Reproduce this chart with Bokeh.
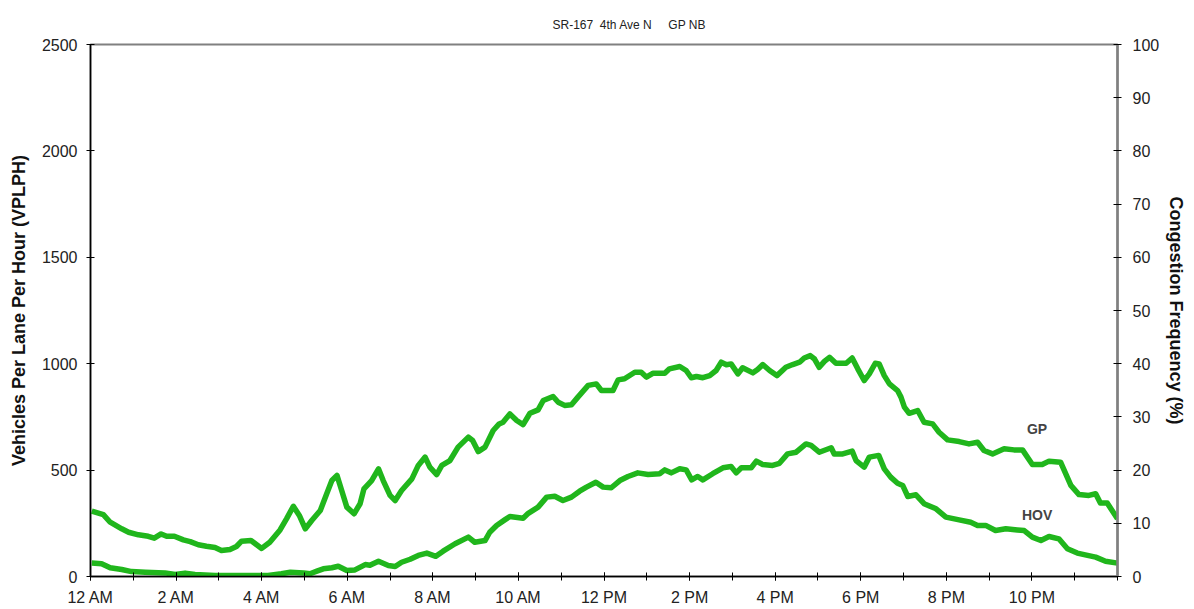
from bokeh.plotting import figure
from bokeh.models import Range1d, LinearAxis, FixedTicker, Label
from bokeh.embed import file_html
from bokeh.resources import INLINE

# ---- data (hours since midnight, vehicles per lane per hour) ----
gp_hours = [0.03, 0.30, 0.46, 0.73, 0.89, 1.12, 1.35, 1.49, 1.65, 1.78, 1.96, 2.17, 2.33, 2.52, 2.71, 2.91,
            3.06, 3.26, 3.41, 3.53, 3.75, 4.00, 4.19, 4.43, 4.58, 4.74, 4.88, 5.02, 5.17, 5.37, 5.52,
            5.64, 5.76, 5.87, 5.99, 6.16, 6.30, 6.39, 6.57, 6.73, 6.84, 7.00, 7.12, 7.27, 7.51, 7.66,
            7.82, 7.93, 8.09, 8.21, 8.40, 8.59, 8.83, 8.93, 9.06, 9.22, 9.41, 9.55, 9.64, 9.80, 9.96,
            10.11, 10.27, 10.46, 10.58, 10.81, 10.93, 11.08, 11.24, 11.39, 11.63, 11.82, 11.94, 12.21,
            12.33, 12.48, 12.72, 12.87, 12.99, 13.14, 13.42, 13.53, 13.77, 13.92, 14.04, 14.16, 14.31,
            14.47, 14.62, 14.74, 14.86, 14.97, 15.13, 15.24, 15.48, 15.59, 15.71, 15.87, 16.04, 16.25,
            16.41, 16.57, 16.68, 16.82, 16.92, 17.03, 17.15, 17.27, 17.42, 17.66, 17.80, 17.93, 18.08,
            18.20, 18.34, 18.43, 18.55, 18.67, 18.86, 18.94, 19.02, 19.13, 19.33, 19.48, 19.68, 19.83,
            20.03, 20.30, 20.53, 20.73, 20.88, 21.08, 21.35, 21.58, 21.78, 22.01, 22.24, 22.40, 22.67,
            22.91, 23.10, 23.33, 23.49, 23.60, 23.76, 24.00]
gp_vals = [307, 291, 255, 224, 208, 196, 189, 180, 200, 189, 189, 172, 164, 149, 142, 136,
           122, 127, 141, 166, 169, 132, 161, 219, 271, 330, 287, 224, 263, 310, 389,
           451, 475, 404, 326, 295, 342, 412, 451, 506, 451, 381, 357, 404, 459, 522,
           561, 514, 479, 522, 545, 608, 655, 639, 587, 608, 686, 717, 725, 764, 733,
           714, 767, 783, 827, 846, 819, 804, 807, 843, 898, 905, 874, 874,
           924, 929, 960, 960, 937, 955, 955, 976, 987, 968, 934, 940, 934,
           944, 968, 1007, 995, 999, 952, 981, 957, 973, 996, 968, 944, 983,
           996, 1007, 1027, 1038, 1022, 983, 1011, 1030, 1002, 1002, 1027, 976, 921,
           952, 1002, 999, 944, 905, 874, 843, 796, 767, 780, 725, 717, 678,
           642, 634, 623, 631, 592, 576, 600, 595, 595, 526, 526, 542, 537,
           428, 385, 381, 389, 345, 345, 271]

hov_hours = [0.03, 0.26, 0.46, 0.73, 0.96, 1.28, 1.74, 1.98, 2.21, 2.44, 2.91, 3.45, 4.15, 4.46, 4.67,
             4.98, 5.13, 5.29, 5.44, 5.64, 5.79, 5.99, 6.18, 6.42, 6.53, 6.73, 6.96, 7.12, 7.27, 7.47,
             7.66, 7.86, 8.07, 8.24, 8.52, 8.83, 8.98, 9.22, 9.33, 9.49, 9.68, 9.80, 10.11, 10.23,
             10.46, 10.66, 10.85, 11.04, 11.24, 11.43, 11.59, 11.81, 11.98, 12.17, 12.37, 12.56,
             12.79, 13.03, 13.30, 13.42, 13.57, 13.77, 13.92, 14.05, 14.19, 14.31, 14.54, 14.78,
             14.97, 15.09, 15.21, 15.44, 15.56, 15.71, 15.94, 16.10, 16.29, 16.49, 16.72, 16.84,
             17.03, 17.31, 17.38, 17.58, 17.80, 17.89, 18.08, 18.20, 18.42, 18.55, 18.70, 18.86,
             18.98, 19.10, 19.29, 19.48, 19.76, 19.99, 20.30, 20.57, 20.73, 20.92, 21.15, 21.39,
             21.66, 21.82, 22.01, 22.21, 22.40, 22.63, 22.83, 23.06, 23.30, 23.49, 23.72, 24.00]
hov_vals = [63, 60, 41, 33, 23, 20, 17, 9, 16, 9, 5, 5, 5, 13, 20,
            17, 13, 25, 36, 41, 48, 28, 31, 56, 53, 72, 52, 47, 67, 81,
            99, 110, 95, 119, 154, 185, 161, 169, 208, 240, 266, 282, 274, 297,
            326, 373, 377, 357, 373, 401, 420, 443, 420, 417, 451, 470,
            487, 479, 483, 501, 487, 506, 501, 454, 470, 454, 483, 511,
            517, 487, 511, 511, 542, 526, 522, 532, 576, 584, 623, 616,
            584, 605, 576, 576, 589, 545, 514, 561, 569, 506, 467, 438,
            428, 376, 384, 342, 318, 279, 266, 255, 240, 240, 216, 224,
            219, 216, 185, 169, 188, 177, 130, 110, 99, 91, 72, 63]

x_tick_hours = [0, 2, 4, 6, 8, 10, 12, 14, 16, 18, 20, 22]
x_tick_labels = ["12 AM", "2 AM", "4 AM", "6 AM", "8 AM", "10 AM",
                 "12 PM", "2 PM", "4 PM", "6 PM", "8 PM", "10 PM"]
left_ticks = [0, 500, 1000, 1500, 2000, 2500]
right_ticks = [0, 10, 20, 30, 40, 50, 60, 70, 80, 90, 100]

FONT = "Liberation Sans"
GREEN = "#20B61C"
NB = "\u00a0"
TITLE = "SR-167" + NB * 2 + "4th Ave N" + NB * 5 + "GP NB"

p = figure(width=1194, height=609, x_range=Range1d(0, 24), y_range=Range1d(0, 2500),
           output_backend="svg", toolbar_location=None,
           min_border_left=90, min_border_right=77, min_border_top=44, min_border_bottom=33)
p.extra_y_ranges = {"cong": Range1d(0, 100)}

p.title.text = TITLE
p.title.align = "left"
p.title.offset = 462
p.title.standoff = 22
p.title.vertical_align = "top"
p.title.text_font = FONT
p.title.text_font_size = "12px"
p.title.text_font_style = "normal"
p.title.text_color = "#222222"

p.xgrid.visible = False
p.ygrid.visible = False
p.outline_line_color = "#808080"
p.outline_line_width = 2
p.background_fill_color = "white"

p.line(gp_hours, gp_vals, line_color=GREEN, line_width=5.5, line_join="round")
p.line(hov_hours, hov_vals, line_color=GREEN, line_width=5.5, line_join="round")

p.add_layout(Label(x=22.12, y=695, text="GP", text_font=FONT, text_font_size="14px",
                   text_font_style="bold", text_align="center", text_baseline="middle"))
p.add_layout(Label(x=22.12, y=291, text="HOV", text_font=FONT, text_font_size="14px",
                   text_font_style="bold", text_align="center", text_baseline="middle"))

# x axis
xa = p.xaxis[0]
xa.ticker = FixedTicker(ticks=x_tick_hours, minor_ticks=list(range(0, 25)))
xa.major_label_overrides = {h: l for h, l in zip(x_tick_hours, x_tick_labels)}
# left axis
ya = p.yaxis[0]
ya.ticker = FixedTicker(ticks=left_ticks)
ya.axis_label = "Vehicles Per Lane Per Hour (VPLPH)"
# right axis
ra = LinearAxis(y_range_name="cong", ticker=FixedTicker(ticks=right_ticks),
                axis_label="Congestion Frequency (%)")
p.add_layout(ra, "right")

for ax in (xa, ya, ra):
    ax.major_label_text_font = FONT
    ax.major_label_text_font_size = "16px"
    ax.major_label_text_color = "#222222"
    ax.axis_label_text_font = FONT
    ax.axis_label_text_font_size = "18px"
    ax.axis_label_text_font_style = "bold"
    ax.axis_label_text_color = "#111111"
    ax.axis_line_color = "black"
    ax.axis_line_width = 1.5
    ax.major_tick_line_color = "black"
    ax.major_tick_in = 4
    ax.major_tick_out = 4
    ax.minor_tick_line_color = None

xa.minor_tick_line_color = "black"
xa.minor_tick_in = 4
xa.minor_tick_out = 4
xa.major_label_standoff = 8
ya.major_label_standoff = 9
ya.axis_label_standoff = 10
ra.major_label_standoff = 11
ra.axis_label_standoff = 4
ra.axis_line_color = "#808080"
ra.axis_line_width = 2.5

open("out.html", "w").write(file_html(p, INLINE))
